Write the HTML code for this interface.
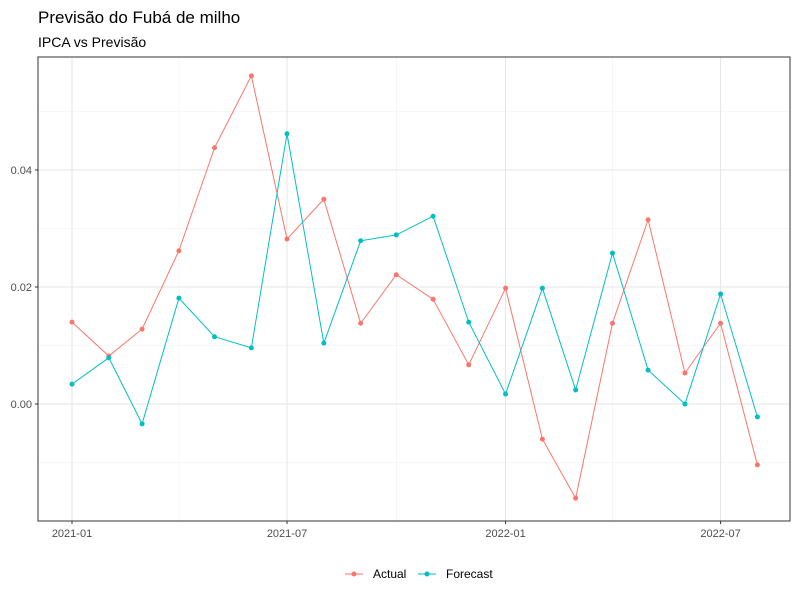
<!DOCTYPE html>
<html><head><meta charset="utf-8"><style>
body{margin:0;background:#fff;font-family:"Liberation Sans",sans-serif;}
</style></head><body>
<svg id="chart" width="800" height="600" xmlns="http://www.w3.org/2000/svg" font-family="Liberation Sans, sans-serif">
<text x="38" y="23" font-size="17" fill="#000">Previsão do Fubá de milho</text>
<text x="38" y="47" font-size="14" fill="#000">IPCA vs Previsão</text>
<g id="grid"></g><g id="marks"></g><g id="axes"></g>
<rect x="38" y="57" width="752" height="464" fill="none" stroke="#333" stroke-width="1"/>
<g>
<g><line x1="345" y1="574" x2="363" y2="574" stroke="#F8766D"/><circle cx="354" cy="574" r="2.5" fill="#F8766D"/><text x="373" y="578" font-size="12" fill="#000">Actual</text></g>
<g><line x1="418" y1="574" x2="436" y2="574" stroke="#00BFC4"/><circle cx="427" cy="574" r="2.5" fill="#00BFC4"/><text x="446" y="578" font-size="12" fill="#000">Forecast</text></g>
</g>
</svg>
<script>
const months=["2021-01","2021-02","2021-03","2021-04","2021-05","2021-06","2021-07","2021-08","2021-09","2021-10","2021-11","2021-12","2022-01","2022-02","2022-03","2022-04","2022-05","2022-06","2022-07","2022-08"];
const actualValues=[0.0140,0.0082,0.0128,0.0262,0.0438,0.0561,0.0282,0.0350,0.0138,0.0221,0.0179,0.0067,0.0198,-0.0060,-0.0161,0.0138,0.0315,0.0053,0.0138,-0.0104];
const forecastValues=[0.0034,0.0079,-0.0034,0.0181,0.0115,0.0096,0.0462,0.0104,0.0279,0.0289,0.0321,0.0140,0.0017,0.0198,0.0024,0.0258,0.0058,0.0000,0.0188,-0.0022];
const yTicks=[0.00,0.02,0.04];
const yTickLabels=["0.00","0.02","0.04"];
const yMinor=[-0.01,0.01,0.03,0.05];
const xTicks=["2021-01","2021-07","2022-01","2022-07"];
const xMinor=["2021-04","2021-10","2022-04"];
const NS="http://www.w3.org/2000/svg";
const t0=Date.UTC(2021,0,1);
function day(m){const [y,mo]=m.split("-").map(Number);return (Date.UTC(y,mo-1,1)-t0)/864e5;}
function X(m){return 72+day(m)*215/181;}
function Y(v){return 404-v*5850;}
function el(tag,attrs,parent){const e=document.createElementNS(NS,tag);for(const k in attrs)e.setAttribute(k,attrs[k]);parent.appendChild(e);return e;}
const grid=document.getElementById("grid"),marks=document.getElementById("marks"),axes=document.getElementById("axes");
el("rect",{x:38,y:57,width:752,height:464,fill:"#fff"},grid);
yMinor.forEach(v=>{const l=el("line",{x1:38,x2:790,y1:Y(v),y2:Y(v),stroke:"#f0f0f0","stroke-width":0.6},grid);

});
xMinor.forEach(m=>{const l=el("line",{x1:X(m),x2:X(m),y1:57,y2:521,stroke:"#f0f0f0","stroke-width":0.6},grid);

});
yTicks.forEach((v,i)=>{const l=el("line",{x1:38,x2:790,y1:Y(v),y2:Y(v),stroke:"#e5e5e5","stroke-width":1},grid);


el("line",{x1:35,x2:38,y1:Y(v),y2:Y(v),stroke:"#333"},axes);
const t=el("text",{x:32,y:Y(v)+4,"font-size":11,fill:"#4d4d4d","text-anchor":"end"},axes);t.textContent=yTickLabels[i];

});
xTicks.forEach(m=>{const l=el("line",{x1:X(m),x2:X(m),y1:57,y2:521,stroke:"#e5e5e5","stroke-width":1},grid);


el("line",{x1:X(m),x2:X(m),y1:521,y2:524,stroke:"#333"},axes);
const t=el("text",{x:X(m),y:537,"font-size":11,fill:"#4d4d4d","text-anchor":"middle"},axes);t.textContent=m;

});
function series(vals,color,name){
const p=el("polyline",{points:vals.map((v,i)=>X(months[i])+","+Y(v)).join(" "),fill:"none",stroke:color,"stroke-width":1},marks);


vals.forEach((v,i)=>{const c=el("circle",{cx:X(months[i]),cy:Y(v),r:2.5,fill:color},marks);

});}
series(actualValues,"#F8766D","actual");
series(forecastValues,"#00BFC4","forecast");
</script>
</body></html>
